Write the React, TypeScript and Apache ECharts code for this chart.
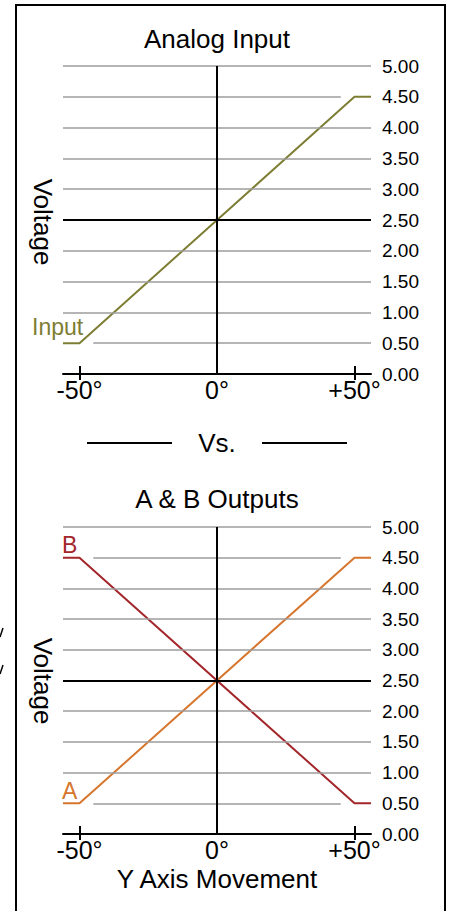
import React, { useEffect, useRef } from "react";
import * as echarts from "echarts";

// ---- data ----
const xTickValues = [-50, 0, 50];
const xTickMarks = [-50, 50];
const yTickValues = [0, 0.5, 1, 1.5, 2, 2.5, 3, 3.5, 4, 4.5, 5];
const movementDeg = [-56, -50, 50, 56];
const inputVolts = [0.5, 0.5, 4.5, 4.5];
const outputAVolts = [0.5, 0.5, 4.5, 4.5];
const outputBVolts = [4.5, 4.5, 0.5, 0.5];
const centerDot = [[0, 2.5]];
const chartTitles = ["Analog Input", "A & B Outputs"];

const FONT = "Liberation Sans, Arial, sans-serif";
const OLIVE = "#7d7d33";
const ORANGE = "#d6762e";
const DARKRED = "#a3262a";
const GRAY = "#9d9d9d";

const X_MIN = -56;
const X_MAX = 56;

function pairs(xs: number[], ys: number[]) {
  return xs.map((x, i) => [x, ys[i]]);
}

function gridLines(shortTop: [number, number], shortBottom: [number, number]) {
  const data: any[] = [];
  yTickValues.forEach((v) => {
    if (v === 0) return;
    let a = X_MIN;
    let b = X_MAX;
    let color = GRAY;
    let width = 1.5;
    if (v === 4.5) { a = shortTop[0]; b = shortTop[1]; }
    if (v === 0.5) { a = shortBottom[0]; b = shortBottom[1]; }
    if (v === 2.5) { color = "#000"; width = 2; }
    data.push([
      { coord: [a, v], lineStyle: { color, width, type: "solid" } },
      { coord: [b, v] },
    ]);
  });
  data.push([
    { coord: [0, 0], lineStyle: { color: "#000", width: 2, type: "solid" } },
    { coord: [0, 5] },
  ]);
  return data;
}

export default function App() {
  const ref = useRef<HTMLDivElement>(null);
  useEffect(() => {
    if (!ref.current) return;
    const chart = echarts.init(ref.current, undefined, { renderer: "svg" });

    const grids = [
      { left: 63, right: 79, top: 66, height: 308 },
      { left: 63, right: 79, top: 527, height: 307 },
    ];

    const xAxes: any[] = [];
    const yAxes: any[] = [];
    grids.forEach((_, i) => {
      xAxes.push({
        gridIndex: i,
        type: "value",
        min: X_MIN,
        max: X_MAX,
        axisLine: { show: true, onZero: false, lineStyle: { color: "#000", width: 2 } },
        axisTick: { show: true, customValues: xTickMarks, length: 6, lineStyle: { color: "#000", width: 2 } },
        axisLabel: {
          customValues: xTickValues,
          formatter: (v: number) => (v > 0 ? `+${v}°` : `${v}°`),
          fontSize: 25,
          color: "#000",
          fontFamily: FONT,
          margin: 3,
          showMinLabel: true,
          showMaxLabel: true,
        },
        splitLine: { show: false },
      });
      xAxes.push({
        gridIndex: i,
        type: "value",
        position: "bottom",
        min: X_MIN,
        max: X_MAX,
        axisLine: { show: false },
        axisTick: { show: true, inside: true, customValues: xTickMarks, length: 8, lineStyle: { color: "#000", width: 2 } },
        axisLabel: { show: false },
        splitLine: { show: false },
      });
      yAxes.push({
        gridIndex: i,
        type: "value",
        position: "right",
        min: 0,
        max: 5,
        interval: 0.5,
        axisLine: { show: false },
        axisTick: { show: false },
        splitLine: { show: false },
        axisLabel: {
          formatter: (v: number) => v.toFixed(2),
          fontSize: 19,
          color: "#000",
          fontFamily: FONT,
          margin: 11,
          padding: [5, 0, 0, 0],
        },
      });
    });

    const series: any[] = [
      {
        type: "line",
        xAxisIndex: 0,
        yAxisIndex: 0,
        data: [],
        z: 1,
        silent: true,
        markLine: { silent: true, symbol: "none", label: { show: false }, data: gridLines([X_MIN, 45], [-45, X_MAX]) },
      },
      {
        type: "line",
        xAxisIndex: 2,
        yAxisIndex: 1,
        data: [],
        z: 1,
        silent: true,
        markLine: { silent: true, symbol: "none", label: { show: false }, data: gridLines([-45, 45], [-45, 45]) },
      },
      {
        name: "Input",
        type: "line",
        xAxisIndex: 0,
        yAxisIndex: 0,
        data: pairs(movementDeg, inputVolts),
        symbol: "none",
        lineStyle: { color: OLIVE, width: 2 },
        z: 3,
      },
      {
        type: "scatter",
        xAxisIndex: 0,
        yAxisIndex: 0,
        data: centerDot,
        symbolSize: 4,
        itemStyle: { color: "#e0602a" },
        z: 4,
      },
      {
        name: "A",
        type: "line",
        xAxisIndex: 2,
        yAxisIndex: 1,
        data: pairs(movementDeg, outputAVolts),
        symbol: "none",
        lineStyle: { color: ORANGE, width: 2 },
        z: 3,
      },
      {
        name: "B",
        type: "line",
        xAxisIndex: 2,
        yAxisIndex: 1,
        data: pairs(movementDeg, outputBVolts),
        symbol: "none",
        lineStyle: { color: DARKRED, width: 2 },
        z: 3,
      },
    ];

    const txt = (text: string, x: number, y: number, size: number, color = "#000", align = "center", rotation = 0) => ({
      type: "text",
      x,
      y,
      rotation,
      style: { text, fill: color, font: `${size}px ${FONT}`, align, verticalAlign: "middle" },
      z: 10,
    });

    const graphic: any[] = [
      { type: "rect", shape: { x: 16, y: 5, width: 429, height: 930 }, style: { fill: "none", stroke: "#000", lineWidth: 2 }, z: 0 },
      txt(chartTitles[0], 217, 39, 26),
      txt(chartTitles[1], 217, 499, 26),
      txt("Vs.", 217, 443, 26),
      { type: "line", shape: { x1: 87, y1: 443, x2: 172, y2: 443 }, style: { stroke: "#000", lineWidth: 2 } },
      { type: "line", shape: { x1: 262, y1: 443, x2: 347, y2: 443 }, style: { stroke: "#000", lineWidth: 2 } },
      txt("Y Axis Movement", 217, 879, 26),
      txt("Voltage", 43, 222, 26, "#000", "center", -Math.PI / 2),
      txt("Voltage", 43, 681, 26, "#000", "center", -Math.PI / 2),
      txt("Input", 32, 327, 23, OLIVE, "left"),
      txt("B", 62, 545, 23, DARKRED, "left"),
      txt("A", 62, 791, 23, ORANGE, "left"),
      { type: "line", shape: { x1: 3, y1: 628, x2: 0, y2: 637 }, style: { stroke: "#000", lineWidth: 1.5 } },
      { type: "line", shape: { x1: 3, y1: 665, x2: 0, y2: 674 }, style: { stroke: "#000", lineWidth: 1.5 } },
    ];

    chart.setOption({
      animation: false,
      backgroundColor: "#fff",
      textStyle: { fontFamily: FONT },
      grid: grids,
      xAxis: xAxes,
      yAxis: yAxes,
      series,
      graphic,
    });

    return () => chart.dispose();
  }, []);

  return <div ref={ref} style={{ position: "absolute", left: 0, top: 0, width: 450, height: 911 }} />;
}
